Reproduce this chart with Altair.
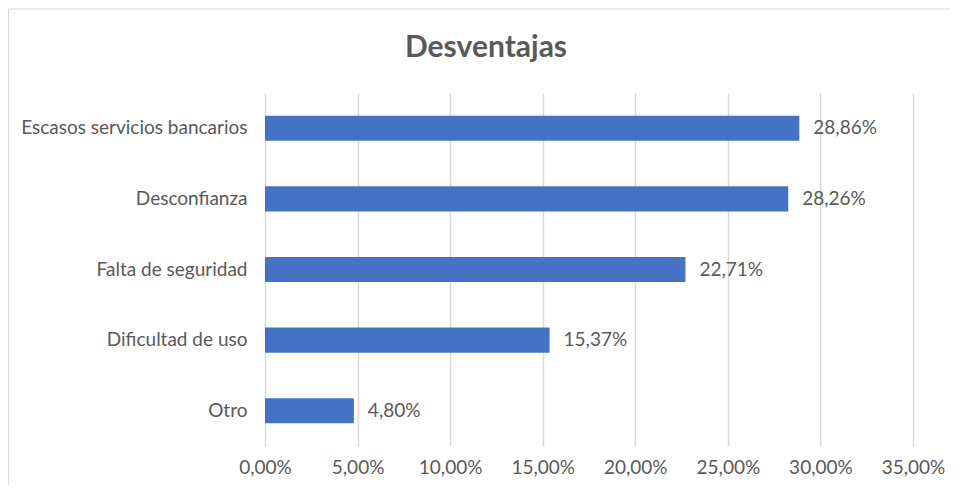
import altair as alt
import pandas as pd

title_text = "Desventajas"
categories = ["Escasos servicios bancarios", "Desconfianza", "Falta de seguridad", "Dificultad de uso", "Otro"]
values = [28.86, 28.26, 22.71, 15.37, 4.80]
value_labels = ["28,86%", "28,26%", "22,71%", "15,37%", "4,80%"]
tick_values = [0, 5, 10, 15, 20, 25, 30, 35]

df = pd.DataFrame({"cat": categories, "val": values, "lab": value_labels})

FONT = "Lato"
GRAY = "#595959"
FS = 19

y_enc = alt.Y("cat:N", sort=categories, title=None,
              scale=alt.Scale(paddingInner=0.645, paddingOuter=0.3225),
              axis=alt.Axis(labelFont=FONT, labelFontSize=FS, labelColor=GRAY, labelLimit=0,
                            ticks=False, domain=False, labelPadding=18, grid=False))
x_enc = alt.X("val:Q", title=None,
              scale=alt.Scale(domain=[0, 35], nice=False),
              axis=alt.Axis(values=tick_values, labelFont=FONT, labelFontSize=FS, labelColor=GRAY,
                            ticks=False, domain=False, labelPadding=12, labelFlush=False,
                            labelOverlap=False,
                            grid=True, gridColor="#d9d9d9", gridWidth=1.5,
                            labelExpr="replace(format(datum.value, '.2f'), '.', ',') + '%'"))

bars = alt.Chart(df).mark_bar(color="#4472C4").encode(x=x_enc, y=y_enc)

texts = alt.Chart(df).mark_text(align="left", baseline="middle", dx=14,
                                font=FONT, fontSize=FS, color=GRAY).encode(
    x="val:Q", y=alt.Y("cat:N", sort=categories), text="lab:N")

title = alt.Chart(pd.DataFrame({"t": [title_text]})).mark_text(
    align="center", baseline="middle", font=FONT, fontSize=30, fontWeight="bold", color=GRAY
).encode(text="t:N", x=alt.value(221), y=alt.value(-45))

border = alt.Chart(pd.DataFrame({"a": [0]})).mark_rect(
    fillOpacity=0, stroke="#d9d9d9", strokeWidth=1
).encode(x=alt.value(-256.5), x2=alt.value(2000), y=alt.value(-84), y2=alt.value(2000))

chart = alt.layer(border, bars, texts, title).properties(
    width=648, height=353,
    padding={"left": 257, "top": 85, "right": 37, "bottom": 39},
    autosize="none",
).configure_view(stroke=None)

chart.save("out.html", embed_options={"renderer": "svg", "actions": False})
